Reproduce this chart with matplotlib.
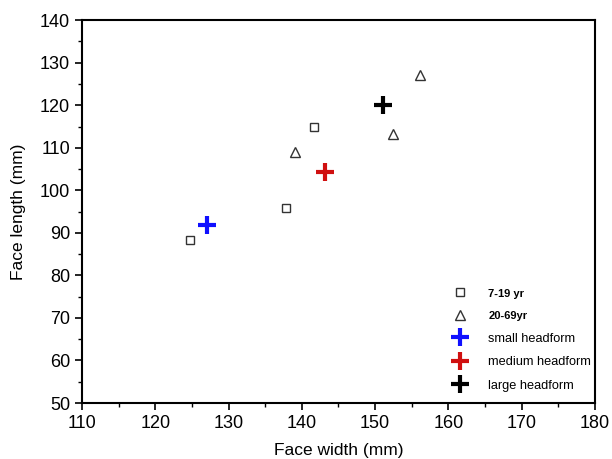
import matplotlib
matplotlib.use("Agg")
import matplotlib.pyplot as plt
from matplotlib.ticker import MultipleLocator

plt.rcParams['font.family'] = ['Liberation Sans', 'DejaVu Sans']

# 7-19 yr group
young_w = [124.7, 137.8, 141.7]
young_l = [88.3, 95.9, 114.9]
# 20-69 yr group
adult_w = [139.1, 152.5, 156.2]
adult_l = [109.0, 113.2, 127.0]
# headforms
head_names = ['small headform', 'medium headform', 'large headform']
head_w = [127.1, 143.2, 151.1]
head_l = [91.8, 104.2, 120.0]
head_colors = ['#1010ff', '#d01010', 'black']

fig = plt.figure(figsize=(6.12, 4.59), dpi=100)
ax = fig.add_axes([0.134, 0.122, 0.838, 0.834])

ax.plot(young_w, young_l, 's', ms=6, mfc='none', mec='#333333', mew=1.0, label='7-19 yr')
ax.plot(adult_w, adult_l, '^', ms=7, mfc='none', mec='#333333', mew=1.0, label='20-69yr')
for name, x, y, c in zip(head_names, head_w, head_l, head_colors):
    ax.plot([x], [y], '+', ms=13, mew=3, color=c, label=name)

ax.set_xlim(110, 180)
ax.set_ylim(50, 140)
ax.xaxis.set_major_locator(MultipleLocator(10))
ax.xaxis.set_minor_locator(MultipleLocator(5))
ax.yaxis.set_major_locator(MultipleLocator(10))
ax.yaxis.set_minor_locator(MultipleLocator(5))
ax.tick_params(which='major', direction='out', length=5, width=1.2, labelsize=13)
ax.tick_params(which='minor', direction='out', length=3, width=1.0)
for s in ax.spines.values():
    s.set_linewidth(1.5)

ax.set_xlabel('Face width (mm)', fontsize=12.5, labelpad=8)
ax.set_ylabel('Face length (mm)', fontsize=12.5, labelpad=10)

leg = ax.legend(loc='lower right', bbox_to_anchor=(1.015, 0.0), frameon=False,
                fontsize=9.2, handletextpad=1.2, labelspacing=0.9, borderaxespad=0.5)
for t in leg.get_texts()[:2]:
    t.set_fontsize(8)
    t.set_fontweight('bold')

fig.savefig('out.png', dpi=100)
